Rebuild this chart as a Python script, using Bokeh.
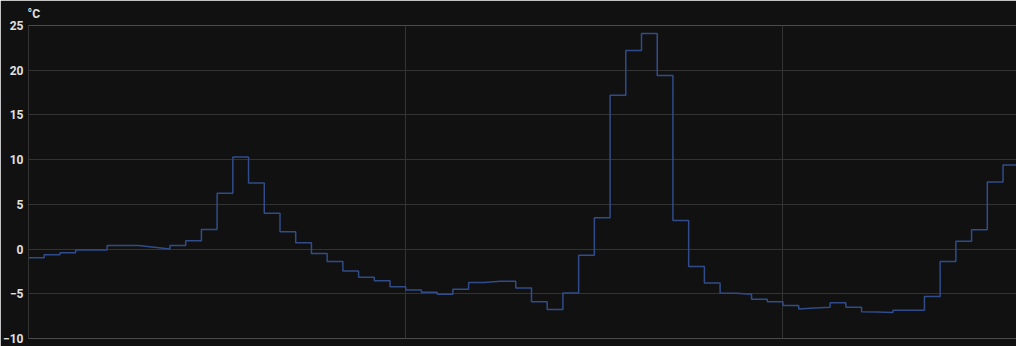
from bokeh.plotting import figure
from bokeh.models import Range1d, FixedTicker, ColumnDataSource
from bokeh.embed import file_html
from bokeh.resources import INLINE

# Hourly temperature readings (°C); hour 0 = left edge, 24 and 48 = midnight gridlines
hours = list(range(0, 63))
temps = [
    -0.97, -0.64, -0.42, -0.10, -0.10, 0.40, 0.40, 0.40, 0.20, 0.40,
    0.93, 2.20, 6.25, 10.30, 7.40, 4.00, 1.95, 0.70, -0.50, -1.40,
    -2.45, -3.15, -3.55, -4.20, -4.57, -4.83, -5.06, -4.50, -3.75, -3.75,
    -3.60, -4.35, -5.90, -6.75, -4.90, -0.70, 3.50, 17.20, 22.20, 24.10,
    19.40, 3.20, -1.95, -3.80, -4.90, -4.95, -5.60, -5.90, -6.30, -6.70,
    -6.60, -6.00, -6.50, -7.00, -7.05, -6.85, -6.85, -5.30, -1.40, 0.87,
    2.17, 7.50, 9.40,
]
# hours whose segment drifts linearly to another value (instead of staying flat)
drift = {7: 0.20, 8: 0.00, 29: -3.60, 44: -4.95, 45: -5.05, 49: -6.60, 50: -6.50,
         53: -7.05, 54: -7.10}

y_ticks = [-10, -5, 0, 5, 10, 15, 20, 25]
day_ticks = [24, 48]
x_end = 62.857

xs, ys = [], []
for i, h in enumerate(hours):
    v = temps[i]
    t_next = hours[i + 1] if i + 1 < len(hours) else x_end
    xs += [h, t_next]
    ys += [v, drift.get(h, v)]

src = ColumnDataSource(dict(x=xs, y=ys))

BG = "#111111"
GRID = "#333333"

p = figure(width=1016, height=346, output_backend="svg", toolbar_location=None,
           x_range=Range1d(0, x_end), y_range=Range1d(-10, 25),
           min_border_left=26, min_border_right=0, min_border_top=0, min_border_bottom=8,
           background_fill_color=BG, border_fill_color=BG,
           title="°C", title_location="above")
p.outline_line_color = None

p.title.text_font = "Roboto"
p.title.text_font_size = "12px"
p.title.text_font_style = "bold"
p.title.text_color = "#e1e1e1"
p.title.align = "left"
p.title.offset = -1
p.title.standoff = 9
p.title.text_line_height = 1.0

p.line("x", "y", source=src, line_color="#304c8a", line_width=1.5)

p.xaxis.visible = False
p.xgrid.ticker = FixedTicker(ticks=day_ticks)
p.xgrid.grid_line_color = GRID
p.xgrid.grid_line_width = 1

p.yaxis.ticker = FixedTicker(ticks=y_ticks)
p.ygrid.ticker = FixedTicker(ticks=y_ticks)
p.ygrid.grid_line_color = GRID
p.yaxis.axis_line_color = GRID
p.yaxis.major_tick_line_color = None
p.yaxis.minor_tick_line_color = None
p.yaxis.major_tick_out = 0
p.yaxis.major_tick_in = 0
p.yaxis.major_label_standoff = 5
p.yaxis.major_label_text_font = "Roboto"
p.yaxis.major_label_text_font_size = "12px"
p.yaxis.major_label_text_font_style = "bold"
p.yaxis.major_label_text_color = "#e1e1e1"

open("out.html", "w").write(file_html(p, INLINE))
